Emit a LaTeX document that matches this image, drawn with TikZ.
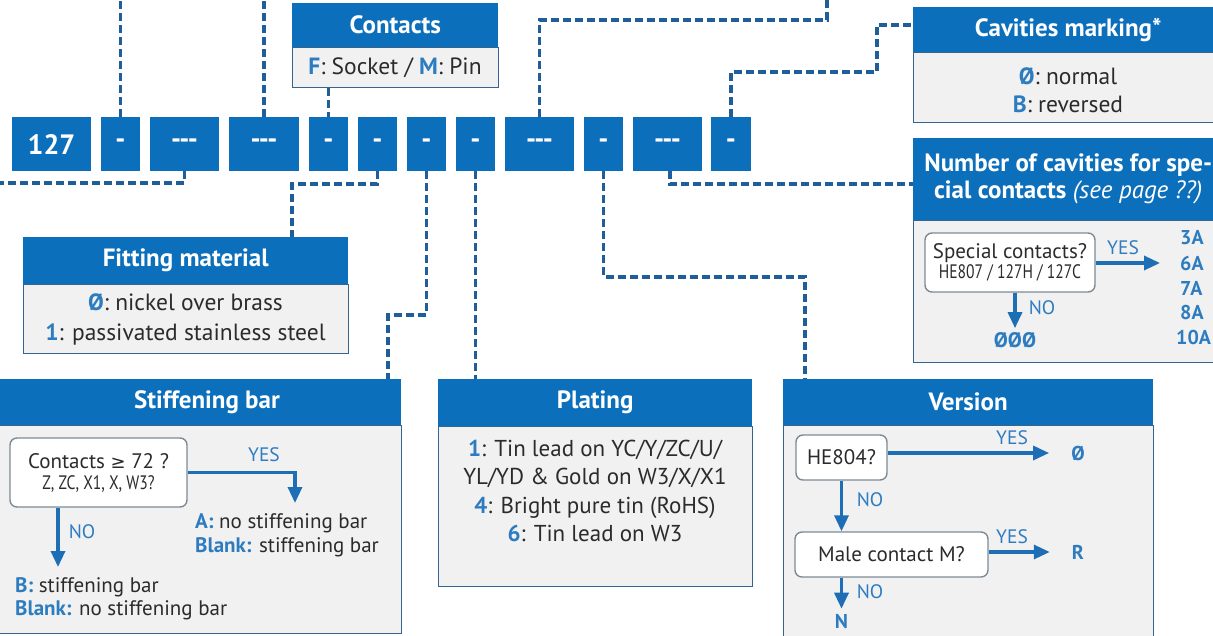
\documentclass[tikz,border=0pt]{standalone}
\usepackage{fontspec}
\setmainfont{PT Sans}
\newfontfamily\condf[FakeStretch=0.8]{PT Sans}
\newfontfamily\dejavu{DejaVu Sans}
\usetikzlibrary{arrows.meta}
\definecolor{hblue}{HTML}{0B6FBC}
\definecolor{dashc}{HTML}{1F5E99}
\definecolor{bodyg}{HTML}{F1F1F1}
\definecolor{bord}{HTML}{35658F}
\definecolor{lbl}{HTML}{2E7CC0}
\definecolor{txt}{HTML}{2B2B2B}
\definecolor{arrc}{HTML}{1D6EB4}
\definecolor{decb}{HTML}{7D8A96}
\newcommand{\lb}[1]{\textcolor{lbl}{\bfseries #1}}
\begin{document}
\begin{tikzpicture}[x=1pt,y=-1pt,
  codebox/.style={fill=hblue, text=white, font=\bfseries\fontsize{28}{30}\selectfont, minimum height=54, inner sep=0pt},
  hdr/.style={fill=hblue, text=white, font=\bfseries\fontsize{25}{27}\selectfont, inner sep=0pt, anchor=north west, align=center},
  bodyb/.style={fill=bodyg, draw=bord, line width=1.4pt, inner sep=0pt, anchor=north west},
  btext/.style={text=txt, font=\fontsize{23.5}{28}\selectfont, align=center, inner sep=0pt},
  ltext/.style={text=txt, font=\fontsize{21}{24}\selectfont, align=left, inner sep=0pt, anchor=west},
  conn/.style={draw=dashc, line width=3.1pt, dash pattern=on 8pt off 4pt},
  dec/.style={draw=decb, fill=white, rounded corners=7pt, line width=1.4pt, align=center, text=txt, inner sep=0pt, font=\fontsize{21}{24}\selectfont},
  arr/.style={draw=arrc, line width=3.3pt, -{Triangle[length=16pt,width=14pt]}},
  yn/.style={text=lbl, font=\fontsize{19.5}{22}\selectfont, inner sep=0pt},
  res/.style={text=lbl, font=\bfseries\fontsize{20}{25}\selectfont, inner sep=0pt},
]
\useasboundingbox (0,0) rectangle (1213,635);
\clip (0,0) rectangle (1213,635);
\fill[white] (0,0) rectangle (1213,635);

% ---------- code row ----------
\node[codebox, minimum width=79] (c1) at (51.5,144) {127};
\node[codebox, minimum width=39] (c2) at (120.5,144) {-};
\node[codebox, minimum width=69] (c3) at (184.5,144) {{-}{-}{-}};
\node[codebox, minimum width=70] (c4) at (264,144) {{-}{-}{-}};
\node[codebox, minimum width=39] (c5) at (328.5,144) {-};
\node[codebox, minimum width=39] (c6) at (377.5,144) {-};
\node[codebox, minimum width=39] (c7) at (426.5,144) {-};
\node[codebox, minimum width=39] (c8) at (475.5,144) {-};
\node[codebox, minimum width=69] (c9) at (539.5,144) {{-}{-}{-}};
\node[codebox, minimum width=39] (c10) at (603.5,144) {-};
\node[codebox, minimum width=69] (c11) at (667.5,144) {{-}{-}{-}};
\node[codebox, minimum width=40] (c12) at (731,144) {-};

% ---------- boxes ----------
% Contacts
\node[hdr, minimum width=206, minimum height=44] (conH) at (292,3) {Contacts};
\node[bodyb, minimum width=206, minimum height=40] (conB) at (292,47) {};
\node[btext] (conT) at (395,68) {\lb{F}: Socket / \lb{M}: Pin};

% Cavities marking
\node[hdr, minimum width=310, minimum height=45] (cavH) at (913,7) {Cavities marking*};
\node[bodyb, minimum width=310, minimum height=70] (cavB) at (913,52) {};
\node[btext] (cavT) at (1068,90) {\lb{Ø}: normal\\\lb{B}: reversed};

% Number of cavities
\node[hdr, minimum width=310, minimum height=82] (nuH) at (913,138) {Number of cavities for spe-\\cial contacts {\mdseries\itshape (see page ??)}};
\node[bodyb, minimum width=310, minimum height=142] (nuB) at (913,220) {};

% Fitting material
\node[hdr, minimum width=325, minimum height=47] (fitH) at (23,237) {Fitting material};
\node[bodyb, minimum width=325, minimum height=69] (fitB) at (23,284) {};
\node[btext, font=\fontsize{23.5}{30}\selectfont] (fitT) at (185.5,319) {\lb{Ø}: nickel over brass\\\lb{1}: passivated stainless steel};

% Stiffening bar
\node[hdr, minimum width=406, minimum height=46] (stH) at (-5,379) {};
\node[text=white, font=\bfseries\fontsize{25}{27}\selectfont, inner sep=0pt] (stT) at (207,402) {Stiffening bar};
\node[bodyb, minimum width=406, minimum height=208] (stB) at (-5,425) {};

% Plating
\node[hdr, minimum width=314, minimum height=47] (plH) at (438,379) {Plating};
\node[bodyb, minimum width=314, minimum height=160] (plB) at (438,426) {};
\node[btext, font=\fontsize{23}{28.5}\selectfont] (plT) at (595,491) {\lb{1}: Tin lead on YC/Y/ZC/U/\\YL/YD \& Gold on W3/X/X1\\\lb{4}: Bright pure tin (RoHS)\\\lb{6}: Tin lead on W3};

% Version
\node[hdr, minimum width=370, minimum height=46] (veH) at (783,379) {Version};
\node[bodyb, minimum width=370, minimum height=215] (veB) at (783,425) {};

% ---------- connectors ----------
\coordinate (top1) at (121,0);
\draw[conn] (c2.north) -- (c2.north |- top1);
\draw[conn] (c4.north) -- (c4.north |- top1);
\draw[conn] (conB.south -| c5.north) -- (c5.north);
\coordinate (k1) at (827,20);
\coordinate (k2) at (827,0);
\draw[conn] (c9.north) |- (k1) -- (k2);
\coordinate (k3) at (877,72);
\coordinate (k4) at (877,25);
\draw[conn] (c12.north) |- (k3) -- (k4) -- (k4 -| cavH.west);
\coordinate (k5) at (0,183);
\draw[conn] (c3.south) |- (k5);
\coordinate (k6) at (292,184);
\draw[conn] (c6.south) |- (k6) -- (k6 |- fitH.north);
\coordinate (k7) at (388,315);
\draw[conn] (c7.south) |- (k7) -- (k7 |- stH.north);
\draw[conn] (c8.south) -- (c8.south |- plH.north);
\coordinate (k8) at (805,277);
\draw[conn] (c10.south) |- (k8) -- (k8 |- veH.north);
\coordinate (k9) at (670,184);
\draw[conn] (c11.south -| k9) -- (k9) -- (k9 -| nuH.west);

% ---------- Number of cavities contents ----------
\node[dec, minimum width=170, minimum height=59] (d4) at (1010,262.5) {Special contacts?\\[-4pt]{\condf\fontsize{19.5}{21}\selectfont HE807 / 127H / 127C}};
\node[res, anchor=west] (n3) at (1180,238) {3A};
\node[res, anchor=west] (n6) at (1180,263) {6A};
\node[res, anchor=west] (n7) at (1180,288) {7A};
\node[res, anchor=west] (n8) at (1180,312) {8A};
\node[res, anchor=west] (n10) at (1176,337) {10A};
\node[res, font=\bfseries\fontsize{21}{25}\selectfont] (n0) at (1015,340) {ØØØ};
\node[yn] (nyes) at (1123,248) {YES};
\node[yn] (nno) at (1042,308) {NO};
\draw[arr, shorten >=20pt] (d4.east |- n6.west) -- (n6.west);
\draw[arr, shorten >=4pt] (d4.south -| n0.north) -- (n0.north);

% ---------- Stiffening contents ----------
\node[dec, minimum width=177, minimum height=69] (d1) at (98.5,472.5) {Contacts {\dejavu\fontsize{18}{20}\selectfont ≥} 72 ?\\[-3pt]{\condf\fontsize{19.5}{21}\selectfont Z, ZC, X1, X, W3?}};
\coordinate (syes) at (295,503);
\coordinate (sno) at (58,567);
\draw[arr] (d1.east) -| (syes);
\draw[arr] (d1.south -| sno) -- (sno);
\node[yn] (syt) at (264,455) {YES};
\node[yn] (snt) at (82,532) {NO};
\node[ltext, font=\fontsize{21}{24}\selectfont] (sa) at (195,535) {\lb{A:} no stiffening bar\\\lb{Blank:} stiffening bar};
\node[ltext, font=\fontsize{21}{23}\selectfont] (sb) at (15,599) {\lb{B:} stiffening bar\\\lb{Blank:} no stiffening bar};

% ---------- Version contents ----------
\node[dec, minimum width=91, minimum height=45] (d2) at (841.5,457.5) {HE804?};
\node[dec, minimum width=193, minimum height=45] (d3) at (891.5,554.5) {Male contact M?};
\node[res] (v1) at (1078,453) {Ø};
\node[res] (v2) at (1078,552) {R};
\node[res] (vn) at (841.5,621) {N};
\draw[arr, shorten >=22pt] (d2.east |- v1.west) -- (v1.west);
\draw[arr, shorten >=22pt] (d3.east |- v2.west) -- (v2.west);
\draw[arr] (d2.south) -- (d2.south |- d3.north);
\draw[arr, shorten >=5pt] (d3.south -| d2.south) -- (vn.north);
\node[yn] (vy1) at (1012,438) {YES};
\node[yn] (vy2) at (1012,537) {YES};
\node[yn] (vno1) at (870,500) {NO};
\node[yn] (vno2) at (870,592) {NO};
\end{tikzpicture}
\end{document}
